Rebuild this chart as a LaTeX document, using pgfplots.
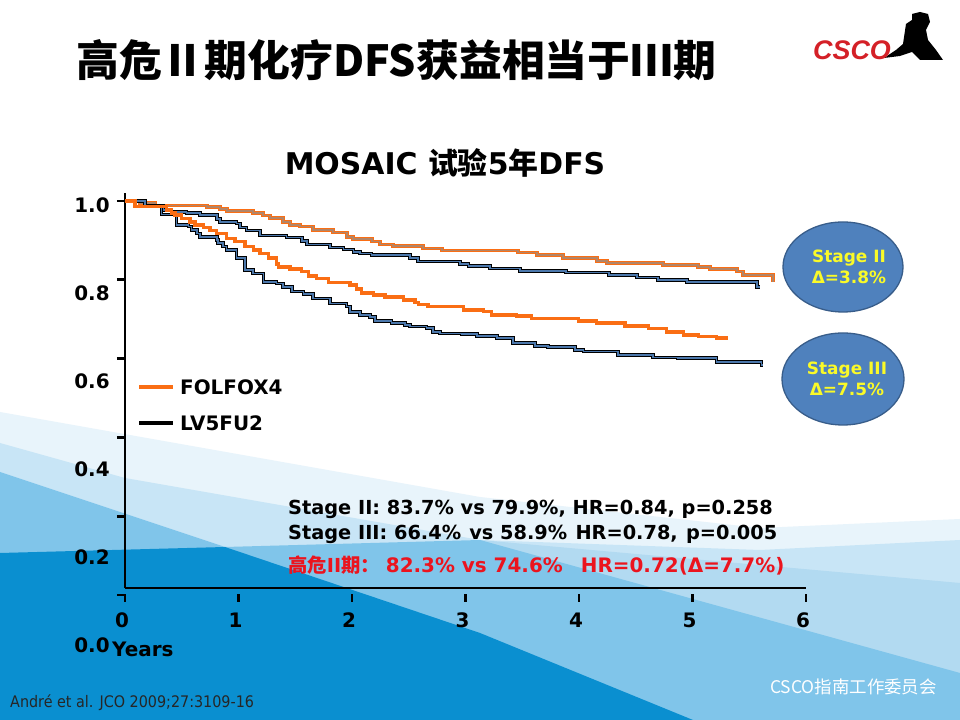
\documentclass[border=0pt]{standalone}
\usepackage{pgfplots}
\pgfplotsset{compat=1.18}
\usepackage{fontspec}
\setmainfont{DejaVu Sans}
\newfontfamily\cjk{Noto Sans CJK SC}
\newfontfamily\narrowf{DejaVu Sans}[FakeStretch=0.9]
\newfontfamily\logof{Liberation Sans}
\definecolor{orangeC}{RGB}{250,110,20}
\definecolor{brownC}{RGB}{178,133,104}
\definecolor{dblue}{RGB}{76,120,172}
\definecolor{ellfill}{RGB}{79,129,189}
\definecolor{elldraw}{RGB}{56,93,138}
\definecolor{yel}{RGB}{250,250,40}
\definecolor{redC}{RGB}{235,20,30}
\definecolor{bgA}{RGB}{232,244,251}
\definecolor{bgB}{RGB}{200,229,246}
\definecolor{bgBb}{RGB}{178,218,241}
\definecolor{bgC}{RGB}{128,197,234}
\definecolor{bgD}{RGB}{10,143,208}
\definecolor{cscored}{RGB}{212,32,39}
\begin{document}
\begin{tikzpicture}
\path[use as bounding box] (0,0) rectangle (960bp,720bp);
% ---------- background ----------
\begin{scope}[x=1bp,y=-1bp,yshift=720bp]
\fill[white] (0,0) rectangle (960,720);
\fill[bgA] (0,412) -- (480,497) -- (760,528) -- (960,519) -- (960,720) -- (0,720) -- cycle;
\fill[bgB] (0,443) -- (125,478) -- (480,540) -- (760,550) -- (960,540) -- (960,720) -- (0,720) -- cycle;
\fill[bgBb] (480,540) -- (960,583) -- (960,720) -- (480,720) -- cycle;
\fill[bgC] (0,472) -- (225,547) -- (480,540) -- (960,673) -- (960,720) -- (0,720) -- cycle;
\fill[bgD] (0,553) -- (225,547) -- (480,633) -- (693,720) -- (0,720) -- cycle;
\end{scope}
% ---------- axis ----------
\begin{axis}[
  at={(125bp,132bp)}, anchor=south west,
  scale only axis, width=681bp, height=395bp,
  xmin=0, xmax=6, ymin=0.0178, ymax=1.0203,
  axis x line=bottom, axis y line=left,
  axis line style={line width=2.6bp, -, black},
  xtick={0,1,2,3,4,5,6}, ytick={0.2,0.4,0.6,0.8,1.0},
  yticklabels={},
  xticklabels={0,1,2,\raisebox{-3bp}{3},4,5,6},
  xtick align=outside, ytick align=outside,
  major tick length=8bp,
  every tick/.style={black, line width=2.6bp},
  x tick style={yshift=-6bp},
  xticklabel style={font=\bfseries\fontsize{20}{24}\selectfont, xshift=-3bp, yshift=-13bp},
  clip=false,
]
% Stage II FOLFOX4
\addplot[const plot, draw=orangeC, double=brownC, line width=1bp, double distance=1.6bp] coordinates {
(0,1.0) (0.13,0.995) (0.264,0.989) (0.722,0.985) (0.837,0.980) (0.899,0.975) (1.128,0.970) (1.216,0.963) (1.278,0.957) (1.392,0.947) (1.454,0.939) (1.542,0.935) (1.656,0.926) (1.833,0.920) (1.956,0.909) (2.009,0.903) (2.176,0.897) (2.247,0.890) (2.361,0.886) (2.626,0.879) (2.793,0.874) (3.463,0.869) (3.630,0.863) (3.859,0.855) (4.159,0.848) (4.247,0.842) (4.740,0.838) (5.048,0.833) (5.154,0.827) (5.392,0.821) (5.445,0.812) (5.709,0.795)
};
% Stage II LV5FU2
\addplot[const plot, draw=black, double=dblue, line width=1bp, double distance=1.6bp] coordinates {
(0,1.0) (0.176,0.987) (0.337,0.977) (0.411,0.972) (0.543,0.970) (0.661,0.964) (0.808,0.954) (0.837,0.947) (0.984,0.943) (1.013,0.933) (1.072,0.925) (1.189,0.912) (1.424,0.907) (1.557,0.899) (1.601,0.890) (1.806,0.882) (1.924,0.877) (2.012,0.871) (2.070,0.867) (2.173,0.863) (2.511,0.855) (2.584,0.846) (2.952,0.840) (3.025,0.835) (3.216,0.829) (3.480,0.823) (3.885,0.819) (4.266,0.812) (4.511,0.806) (4.696,0.799) (4.952,0.794) (5.568,0.782) (5.595,0.782)
};
% Stage III LV5FU2
\addplot[const plot, draw=black, double=dblue, line width=1bp, double distance=1.6bp] coordinates {
(0,1.0) (0.176,0.987) (0.323,0.966) (0.455,0.939) (0.558,0.935) (0.587,0.926) (0.632,0.918) (0.661,0.909) (0.808,0.901) (0.822,0.893) (0.866,0.884) (0.896,0.876) (0.984,0.855) (1.057,0.825) (1.13,0.816) (1.219,0.795) (1.336,0.791) (1.392,0.782) (1.469,0.770) (1.571,0.764) (1.659,0.753) (1.806,0.740) (1.953,0.732) (1.982,0.719) (2.07,0.711) (2.159,0.706) (2.203,0.696) (2.349,0.691) (2.467,0.685) (2.511,0.681) (2.658,0.677) (2.716,0.668) (2.775,0.664) (2.966,0.662) (3.099,0.658) (3.275,0.652) (3.421,0.639) (3.612,0.632) (3.729,0.629) (3.965,0.622) (4.038,0.618) (4.345,0.609) (4.652,0.603) (4.872,0.601) (5.213,0.592) (5.608,0.584) (5.62,0.584)
};
% Stage III FOLFOX4
\addplot[const plot, draw=orangeC, line width=3.4bp] coordinates {
(0,1.0) (0.088,0.986) (0.367,0.977) (0.411,0.970) (0.44,0.964) (0.5,0.956) (0.573,0.947) (0.617,0.939) (0.69,0.933) (0.749,0.925) (0.808,0.918) (0.896,0.905) (0.969,0.897) (1.057,0.884) (1.13,0.876) (1.189,0.867) (1.263,0.855) (1.336,0.840) (1.35,0.832) (1.454,0.827) (1.557,0.821) (1.615,0.810) (1.689,0.804) (1.791,0.793) (1.982,0.787) (2.041,0.777) (2.085,0.766) (2.188,0.761) (2.291,0.756) (2.452,0.749) (2.555,0.743) (2.584,0.738) (2.67,0.732) (2.981,0.723) (3.157,0.719) (3.231,0.711) (3.451,0.708) (3.583,0.702) (3.994,0.695) (4.156,0.690) (4.405,0.683) (4.611,0.677) (4.773,0.668) (4.919,0.660) (5.051,0.656) (5.213,0.652) (5.31,0.652)
};
\end{axis}
% ---------- foreground ----------
\begin{scope}[x=1bp,y=-1bp,yshift=720bp]
% stray zero tick
\draw[black, line width=2.6bp] (117,595) -- (126,595);
% title
\node[anchor=west, inner sep=0pt, font=\cjk\bfseries\fontsize{43}{50}\selectfont] at (76,60) {高危Ⅱ期化疗DFS获益相当于Ⅲ期};
% logo
\fill[black] (884,58) -- (896,50) -- (903,44) -- (906,24) -- (912,20) -- (912,14) -- (920,12) -- (928,14) -- (930,22) -- (926,30) -- (928,40) -- (936,50) -- (943,60) -- (920,60) -- (912,52) -- (900,56) -- cycle;
\node[text=cscored, inner sep=0pt, font=\logof\bfseries\itshape\fontsize{27}{30}\selectfont] at (852,50) {CSCO};
% chart title
\node[inner sep=0pt, font=\bfseries\fontsize{30}{34}\selectfont] at (445,163) {MOSAIC {\cjk\bfseries 试验}5{\cjk\bfseries 年}DFS};
% y labels (offset as in the original)
\foreach \lab/\b in {1.0/212.7, 0.8/300.7, 0.6/388.7, 0.4/476.7, 0.2/564.7, 0.0/652.7}
  \node[anchor=base, inner sep=0pt, font=\bfseries\fontsize{20}{24}\selectfont] at (92,\b) {\lab};
\node[anchor=base west, inner sep=0pt, font=\bfseries\fontsize{20}{24}\selectfont] at (112,657) {Years};
% legend
\draw[orangeC, line width=3.4bp] (139,387) -- (173,387);
\node[anchor=west, inner sep=0pt, font=\bfseries\fontsize{20}{24}\selectfont] at (180,387) {FOLFOX4};
\draw[black, line width=3.4bp] (139,423) -- (173,423);
\node[anchor=west, inner sep=0pt, font=\bfseries\fontsize{20}{24}\selectfont] at (180,423) {LV5FU2};
% stats
\node[anchor=base west, inner sep=0pt, font=\bfseries\fontsize{19.4}{22}\selectfont] at (288,515) {Stage II: 83.7\% vs 79.9\%, HR=0.84, p=0.258};
\node[anchor=base west, inner sep=0pt, font=\bfseries\fontsize{19.4}{22}\selectfont] at (288,540) {Stage III: 66.4\%\hspace{1.5bp} vs 58.9\%\hspace{1.5bp} HR=0.78,\hspace{1.5bp} p=0.005};
\node[anchor=base west, inner sep=0pt, text=redC, font=\bfseries\fontsize{19.4}{22}\selectfont] at (288,573) {{\cjk\bfseries 高危}II{\cjk\bfseries 期}{\cjk ：}\hspace{6bp}{\fontsize{20}{22}\selectfont 82.3\% vs 74.6\%\hspace{18bp}HR=0.72(Δ=7.7\%)}};
% ellipses
\filldraw[fill=ellfill, draw=elldraw, line width=1.3bp] (843,267) ellipse [x radius=60, y radius=45];
\filldraw[fill=ellfill, draw=elldraw, line width=1.3bp] (843,379) ellipse [x radius=61, y radius=46];
\node[text=yel, inner sep=0pt, align=center, font=\bfseries\fontsize{17}{21}\selectfont] at (849,267) {Stage II\\Δ=3.8\%};
\node[text=yel, inner sep=0pt, align=center, font=\bfseries\fontsize{17}{21}\selectfont] at (847,379) {Stage III\\Δ=7.5\%};
% footer
\node[anchor=base west, inner sep=0pt, text=white, font=\cjk\fontsize{17.5}{20}\selectfont] at (770,694) {CSCO指南工作委员会};
\node[anchor=base west, inner sep=0pt, text=black!85, font=\narrowf\fontsize{16}{18}\selectfont] at (10,708) {André et al. JCO 2009;27:3109-16};
\end{scope}
\end{tikzpicture}
\end{document}
